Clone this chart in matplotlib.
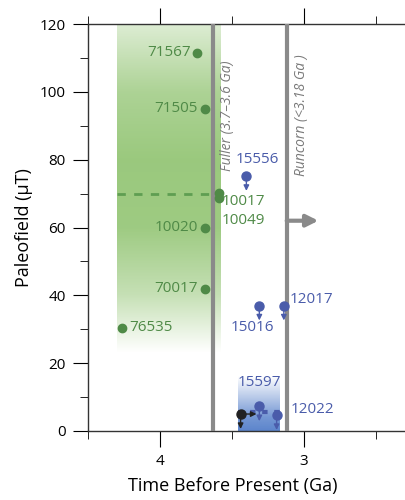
import numpy as np
import matplotlib.pyplot as plt
from matplotlib.ticker import MultipleLocator

plt.rcParams['font.family'] = ['Open Sans', 'DejaVu Sans']

# older samples (green) and younger upper limits (blue)
green_ids = ['71567', '71505', '10017', '10049', '10020', '70017', '76535']
green_age = [3.74, 3.69, 3.59, 3.59, 3.69, 3.69, 4.26]
green_field = [111.5, 95.0, 70.2, 68.7, 60.0, 42.0, 30.4]

blue_ids = ['15556', '15016', '12017', '15597', '12022']
blue_age = [3.40, 3.31, 3.14, 3.31, 3.19]
blue_field = [75.2, 37.0, 37.0, 7.3, 4.7]

black_age = 3.44
black_field = 5.0

# ranges for the two shaded bands: (old age, young age, low field, high field, mean)
green_band = (4.30, 3.58, 23.0, 120.0, 70.0)
blue_band = (3.46, 3.17, 0.0, 16.0, 5.6)

fuller_age = 3.63
runcorn_age = 3.12

GREEN = '#4f8a47'
BLUE = '#4a5caa'
GRAY = '#8a8a8a'

fig = plt.figure(figsize=(4.05, 5.0), dpi=100)
ax = fig.add_axes([0.217, 0.138, 0.783, 0.814])

# green band, strongest around the mean and fading at the ends
g0, g1, lo, hi, gmean = green_band
yy = np.linspace(lo, hi, 300)
alpha = np.interp(yy, [lo, 40, 60, 80, 100, hi], [0.0, 0.5, 0.85, 0.88, 0.72, 0.3])
img = np.zeros((len(yy), 1, 4))
img[:, 0, :3] = (0.55, 0.76, 0.42)
img[:, 0, 3] = alpha
ax.imshow(img, extent=(g0, g1, lo, hi), origin='lower', aspect='auto', zorder=1)
ax.plot([g0, fuller_age], [gmean, gmean], color='#5f9e52', lw=2, dashes=(3, 3), zorder=2)

# blue band, solid at the bottom
b0, b1, blo, bhi, bmean = blue_band
yy = np.linspace(blo, bhi, 200)
img = np.zeros((len(yy), 1, 4))
img[:, 0, :3] = (0.36, 0.52, 0.80)
img[:, 0, 3] = np.interp(yy, [blo, 4, bhi], [1.0, 0.85, 0.0])
ax.imshow(img, extent=(b0, b1, blo, bhi), origin='lower', aspect='auto', zorder=1)
ax.plot([b0, b1], [bmean, bmean], color=BLUE, lw=3, dashes=(1.3, 1.6), zorder=2)

# geologic constraints
ax.axvline(fuller_age, color=GRAY, lw=3, zorder=3)
ax.axvline(runcorn_age, color=GRAY, lw=3, zorder=3)
ax.text(3.528, 93, 'Fuller (3.7–3.6 Ga)', rotation=90, style='italic', color='#7a7a7a',
        fontsize=10, ha='center', va='center')
ax.text(3.014, 93, 'Runcorn (<3.18 Ga )', rotation=90, style='italic', color='#7a7a7a',
        fontsize=10, ha='center', va='center')
ax.annotate('', xy=(2.90, 62), xytext=(runcorn_age, 62),
            arrowprops=dict(arrowstyle='-|>,head_length=0.7,head_width=0.35',
                            color=GRAY, lw=3, shrinkA=0, shrinkB=0), zorder=3)

# green points
ax.plot(green_age, green_field, 'o', color=GREEN, ms=6, zorder=5)
green_offsets = {'71567': (-5, 0, 'right'), '71505': (-5, 0, 'right'),
                 '10017': (2, -6, 'left'), '10049': (2, -16, 'left'),
                 '10020': (-5, 0, 'right'), '70017': (-5, 0, 'right'),
                 '76535': (5, 0, 'left')}
for name, a, f in zip(green_ids, green_age, green_field):
    dx, dy, ha = green_offsets[name]
    ax.annotate(name, (a, f), xytext=(dx, dy), textcoords='offset points',
                ha=ha, va='center', color=GREEN, fontsize=11)


# a dot with a short downward arrow marks an upper limit
def upper_limit(a, f, color):
    ax.annotate('', xy=(a, f - 4.4), xytext=(a, f),
                arrowprops=dict(arrowstyle='-|>,head_length=0.4,head_width=0.2',
                                mutation_scale=8, color=color, lw=1.0,
                                shrinkA=0, shrinkB=0), zorder=5)
    ax.plot(a, f, 'o', color=color, ms=6.5, zorder=6)


for a, f in zip(blue_age, blue_field):
    upper_limit(a, f, BLUE)

blue_offsets = {'15556': (8, 12, 'center'), '15016': (-5, -16, 'center'),
                '12017': (4, 4, 'left'), '15597': (0, 17, 'center'),
                '12022': (10, 4, 'left')}
for name, a, f in zip(blue_ids, blue_age, blue_field):
    dx, dy, ha = blue_offsets[name]
    ax.annotate(name, (a, f), xytext=(dx, dy), textcoords='offset points',
                ha=ha, va='center', color=BLUE, fontsize=11)

# the black sample: upper limit and younger-than arrow
ax.annotate('', xy=(black_age - 0.11, black_field), xytext=(black_age, black_field),
            arrowprops=dict(arrowstyle='-|>,head_length=0.4,head_width=0.2',
                            mutation_scale=8, color='#222222', lw=1.0,
                            shrinkA=0, shrinkB=0), zorder=5)
upper_limit(black_age, black_field, '#222222')

ax.set_xlim(4.5, 2.299)
ax.set_ylim(0, 120)
ax.xaxis.set_minor_locator(MultipleLocator(0.5))
ax.yaxis.set_major_locator(MultipleLocator(20))
ax.yaxis.set_minor_locator(MultipleLocator(10))
ax.set_xticks([4, 3])
ax.set_xticklabels(['4', '3'])
ax.tick_params(axis='x', which='both', direction='out', top=True, bottom=True, labelsize=11)
ax.tick_params(axis='x', which='major', length=11.5, pad=5)
ax.tick_params(axis='x', which='minor', length=6)
ax.tick_params(axis='y', which='major', direction='out', length=11, labelsize=11, pad=5)
ax.tick_params(axis='y', which='minor', direction='out', length=6)
ax.spines['right'].set_visible(False)
for s in ('left', 'top', 'bottom'):
    ax.spines[s].set_linewidth(1.0)
    ax.spines[s].set_color('#333333')

ax.set_ylabel('Paleofield (μT)', fontsize=13)
ax.yaxis.set_label_coords(-0.173, 0.5)
ax.set_xlabel('Time Before Present (Ga)', fontsize=13)
ax.xaxis.set_label_coords(0.457, -0.112)

fig.savefig('out.png', dpi=100)
